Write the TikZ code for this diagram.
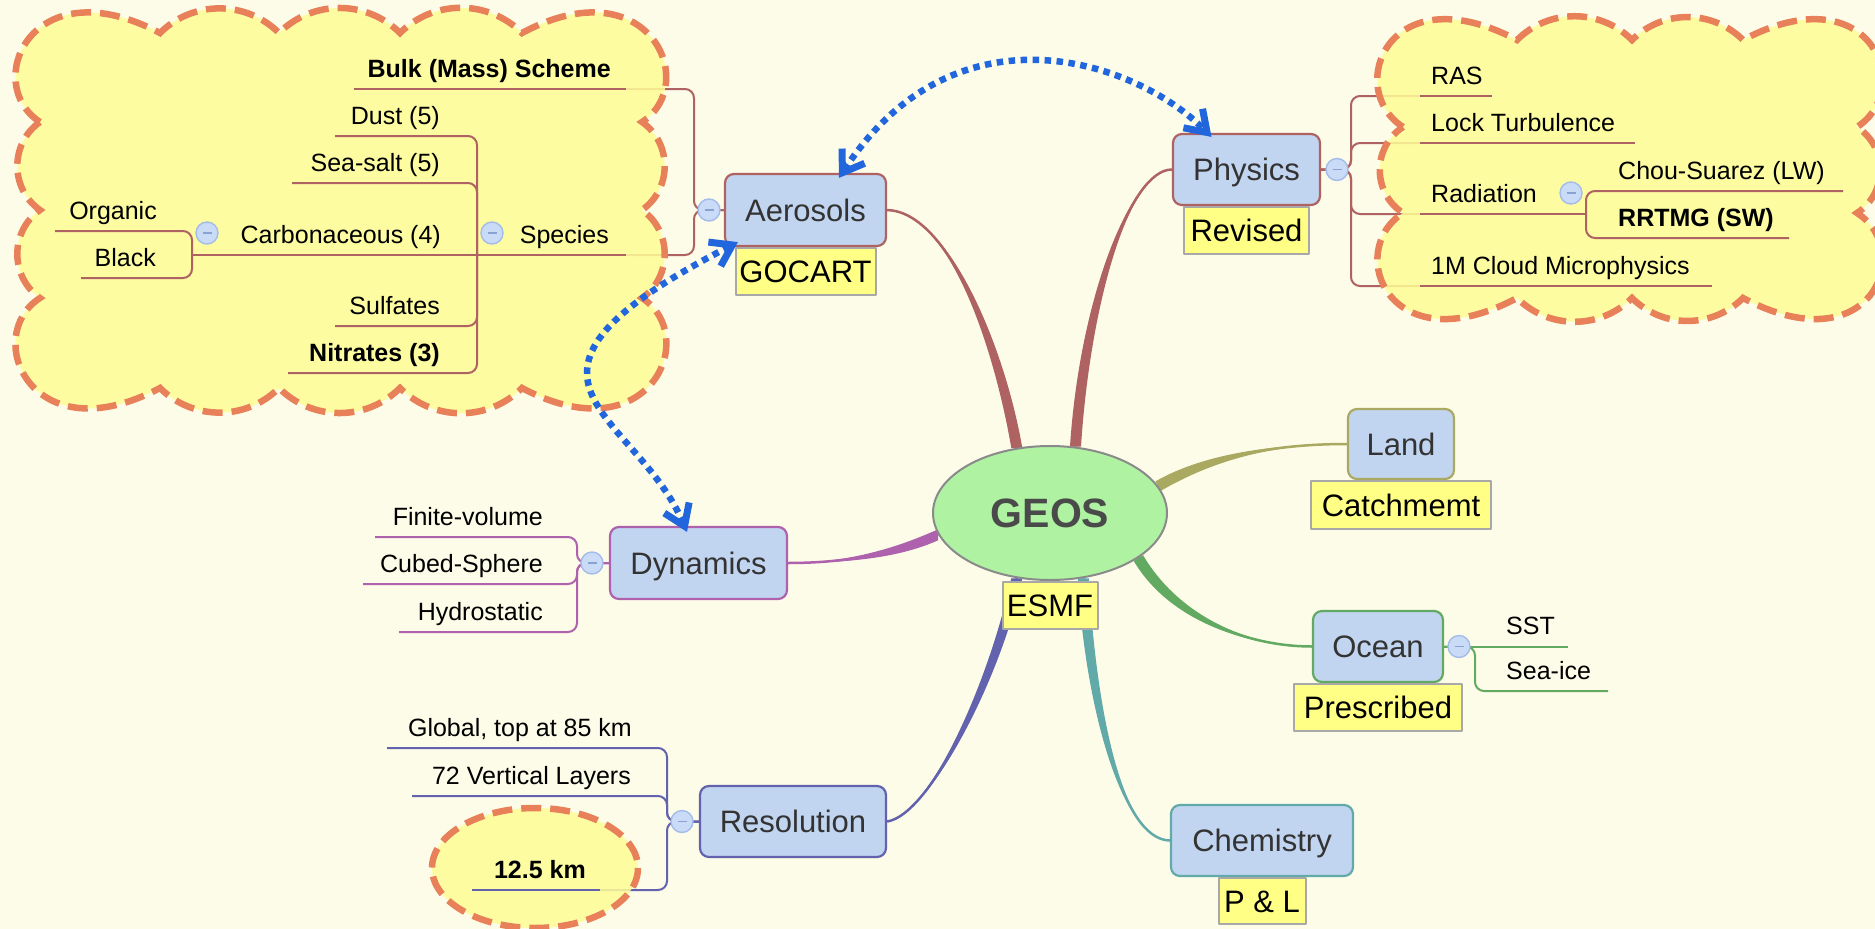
\documentclass[tikz,border=0pt]{standalone}
\usepackage{fontspec}
\setmainfont{Liberation Sans}
\usetikzlibrary{arrows.meta,calc,shapes.geometric}
\pgfdeclarelayer{bglayer}
\pgfdeclarelayer{connlayer}
\pgfdeclarelayer{cloudlayer}
\pgfsetlayers{bglayer,connlayer,cloudlayer,main}

\definecolor{bgc}{HTML}{FDFCE8}
\definecolor{aerc}{HTML}{AF6262}
\definecolor{dync}{HTML}{AE62AE}
\definecolor{resc}{HTML}{6262AE}
\definecolor{landc}{HTML}{A9A962}
\definecolor{oceanc}{HTML}{62AA62}
\definecolor{chemc}{HTML}{62AAAA}
\definecolor{boxfill}{HTML}{C2D5F0}
\definecolor{labfill}{HTML}{FFFF85}
\definecolor{labdraw}{HTML}{A8A8A8}
\definecolor{cloudfill}{HTML}{FEFC96}
\definecolor{clouddraw}{HTML}{E8805A}
\definecolor{geosfill}{HTML}{AEF2A2}
\definecolor{geosdraw}{HTML}{8A8A8A}
\definecolor{geostext}{HTML}{4A4A4A}
\definecolor{maintext}{HTML}{333333}
\definecolor{arrowc}{HTML}{2266DD}
\definecolor{minfill}{HTML}{C9DBF6}
\definecolor{mindraw}{HTML}{A3BCEA}
\definecolor{mindash}{HTML}{8AA2D2}

\newcommand\mmminus{\textcolor{mindash}{\rule[-0.8pt]{9pt}{1.6pt}}}
% leaf on the left side: name, style, text right x, underline y, underline left x, underline right x, text
\newcommand\leafleft[7]{%
  \node[#2, anchor=base east] (#1) at (#3,{#4-12}) {#7};
  \coordinate (#1-l) at (#5,#4);
  \coordinate (#1-r) at (#6,#4);}
% leaf on the right side: name, style, text left x, underline y, underline left x, underline right x, text
\newcommand\leafright[7]{%
  \node[#2, anchor=base west] (#1) at (#3,{#4-12}) {#7};
  \coordinate (#1-l) at (#5,#4);
  \coordinate (#1-r) at (#6,#4);}
% tapered branch: colour, start, c1, c2, end, half-width offset at the end
\newcommand\mmbranch[6]{%
  \fill[#1] (#2) .. controls (#3) and ($(#4)+(#6)$) .. ($(#5)+(#6)$) -- ($(#5)-(#6)$) .. controls ($(#4)-(#6)$) and (#3) .. (#2) -- cycle;
  \draw[#1, line width=2.5pt] (#2) .. controls (#3) and (#4) .. (#5);}

\tikzset{
  mainbox/.style={draw=#1, fill=boxfill, rounded corners=9pt, line width=2.2pt, inner sep=0pt,
    minimum height=71pt, font=\fontsize{31}{36}\selectfont, text=maintext, text height=22pt, text depth=0pt},
  labelbox/.style={draw=labdraw, fill=labfill, line width=2pt, inner sep=0pt, minimum height=47pt,
    font=\fontsize{31}{36}\selectfont, text=black, text height=22pt, text depth=0pt, anchor=north},
  leaf/.style={inner sep=0pt, font=\fontsize{25}{29}\selectfont, text=black},
  leafb/.style={inner sep=0pt, font=\fontsize{25}{29}\selectfont\bfseries, text=black},
  minusnode/.style={circle, draw=mindraw, fill=minfill, line width=1.4pt, minimum size=22pt, inner sep=0pt},
  conn/.style={draw=#1, line width=2pt, rounded corners=9pt},
  uline/.style={draw=#1, line width=2pt},
  cloudshape/.style={draw=clouddraw, fill=cloudfill, fill opacity=0.86, draw opacity=1, line width=6.5pt,
    dash pattern=on 20pt off 9pt},
  cbump/.style 2 args={to path={.. controls ($(\tikztostart)!#2!#1:(\tikztotarget)$) and ($(\tikztotarget)!#2!-#1:(\tikztostart)$) .. (\tikztotarget)}},
  bluearrow/.style={draw=arrowc, line width=6.5pt, dash pattern=on 6.5pt off 5.5pt,
    {Straight Barb[length=20pt,width=27pt,line width=7pt]}-{Straight Barb[length=20pt,width=27pt,line width=7pt]}},
}

\begin{document}
\begin{tikzpicture}[x=1pt, y=-1pt, line join=round]
\useasboundingbox (0,0) rectangle (1875,929);
\begin{pgfonlayer}{bglayer}
  \fill[bgc] (0,0) rectangle (1875,929);
\end{pgfonlayer}

% ---------------- main nodes ----------------
\node[ellipse, draw=geosdraw, fill=geosfill, line width=2pt, minimum width=234pt, minimum height=134pt,
      inner sep=0pt, font=\fontsize{41}{48}\selectfont\bfseries, text=geostext, text height=29.5pt, text depth=0pt]
      (geos) at (1050,513) {GEOS};
\node[labelbox, minimum width=95pt] (esmf) at (geos.south) {ESMF};

\node[mainbox=aerc, minimum width=161pt, minimum height=72pt] (aer) at (805.5,210) {Aerosols};
\node[labelbox, minimum width=140pt] (gocart) at (aer.south) {GOCART};
\node[mainbox=aerc, minimum width=147pt] (phys) at (1246.5,169.5) {Physics};
\node[labelbox, minimum width=125pt] (revised) at (phys.south) {Revised};
\node[mainbox=landc, minimum width=106pt, minimum height=70pt] (land) at (1401,444) {Land};
\node[labelbox, minimum width=180pt, minimum height=48pt] (catch) at (land.south) {Catchmemt};
\node[mainbox=oceanc, minimum width=130pt] (ocean) at (1378,646.5) {Ocean};
\node[labelbox, minimum width=168pt] (presc) at (ocean.south) {Prescribed};
\node[mainbox=chemc, minimum width=182pt] (chem) at (1262,840.5) {Chemistry};
\node[labelbox, minimum width=87pt, minimum height=46pt] (pl) at (chem.south) {P \& L};
\node[mainbox=dync, minimum width=177pt, minimum height=72pt] (dyn) at (698.5,563) {Dynamics};
\node[mainbox=resc, minimum width=186pt] (res) at (793,821.5) {Resolution};

% ---------------- collapse circles ----------------
\node[minusnode] (aerm) at (709,210) {\mmminus};
\node[minusnode] (physm) at (1337,169.5) {\mmminus};
\node[minusnode] (radm) at (1571,193) {\mmminus};
\node[minusnode] (specm) at (492,233) {\mmminus};
\node[minusnode] (carbm) at (207,233) {\mmminus};
\node[minusnode] (dynm) at (592,563) {\mmminus};
\node[minusnode] (resm) at (682,821.5) {\mmminus};
\node[minusnode] (oceanm) at (1459,646.5) {\mmminus};

% ---------------- leaves ----------------
\leafleft{bulk}{leafb}{611}{89}{354}{626}{Bulk (Mass) Scheme}
\leafleft{species}{leaf}{609}{255}{477}{626}{Species}
\leafleft{dust}{leaf}{440}{136}{335}{477}{Dust (5)}
\leafleft{seasalt}{leaf}{440}{183}{292}{477}{Sea-salt (5)}
\leafleft{carb}{leaf}{441}{255}{192}{477}{Carbonaceous (4)}
\leafleft{sulf}{leaf}{440}{326}{335}{477}{Sulfates}
\leafleft{nitr}{leafb}{440}{373}{288}{477}{Nitrates (3)}
\leafleft{organic}{leaf}{157}{231}{55}{192}{Organic}
\leafleft{black}{leaf}{156}{278}{81}{192}{Black}

\leafright{ras}{leaf}{1431}{96}{1420}{1492}{RAS}
\leafright{lock}{leaf}{1431}{143}{1420}{1635}{Lock Turbulence}
\leafright{rad}{leaf}{1431}{214}{1420}{1586}{Radiation}
\leafright{chou}{leaf}{1618}{191}{1586}{1843}{Chou-Suarez (LW)}
\leafright{rrtmg}{leafb}{1618}{238}{1586}{1789}{RRTMG (SW)}
\leafright{cloudm}{leaf}{1431}{286}{1420}{1712}{1M Cloud Microphysics}

\leafleft{fv}{leaf}{543}{537}{375}{577}{Finite-volume}
\leafleft{cs}{leaf}{543}{584}{363}{577}{Cubed-Sphere}
\leafleft{hy}{leaf}{543}{632}{399}{577}{Hydrostatic}

\leafleft{glob}{leaf}{632}{748}{387}{667}{Global, top at 85 km}
\leafleft{vert}{leaf}{631}{796}{412}{667}{72 Vertical Layers}
\leafleft{km}{leafb}{586}{890}{472}{600}{12.5 km}

\leafright{sst}{leaf}{1506}{646.5}{1475}{1568}{SST}
\leafright{seaice}{leaf}{1506}{691}{1475}{1608}{Sea-ice}

% ---------------- connectors (below clouds) ----------------
\coordinate (aerbr) at (694,210);
\coordinate (physbr) at (1351,169.5);
\coordinate (dynbr) at (577,563);
\coordinate (resbr) at (667,821.5);
\coordinate (oceanbr) at (1475,646.5);
\begin{pgfonlayer}{connlayer}
  \mmbranch{aerc}{aer.east}{950,212}{1000,350}{geos.117}{5.5,0}
  \mmbranch{aerc}{phys.west}{1130,169.5}{1085,300}{geos.69}{5.5,0}
  \mmbranch{landc}{land.west}{1260,444}{1200,462}{geos.14}{2.9,4.6}
  \mmbranch{oceanc}{ocean.west}{1250,646.5}{1175,620}{geos.333}{4.7,-2.8}
  \mmbranch{dync}{dyn.east}{850,563}{900,552}{geos.191}{0,5.5}
  \mmbranch{resc}{res.east}{930,815}{995,680}{geos.243}{5.5,0}
  \mmbranch{chemc}{chem.west}{1120,840}{1090,700}{geos.297}{5.5,0}

  \draw[conn=aerc] (aer.west) -- (aerbr) |- (bulk-r);
  \draw[conn=aerc] (aer.west) -- (aerbr) |- (species-r);

  \draw[conn=aerc] (phys.east) -- (physbr) |- (ras-l);
  \draw[conn=aerc] (phys.east) -- (physbr) |- (lock-l);
  \draw[conn=aerc] (phys.east) -- (physbr) |- (rad-l);
  \draw[conn=aerc] (phys.east) -- (physbr) |- (cloudm-l);

  \draw[conn=dync] (dyn.west) -- (dynbr) |- (fv-l);
  \draw[conn=dync] (dyn.west) -- (dynbr) |- (cs-l);
  \draw[conn=dync] (dyn.west) -- (dynbr) |- (hy-l);

  \draw[conn=resc] (res.west) -- (resbr) |- (glob-l);
  \draw[conn=resc] (res.west) -- (resbr) |- (vert-l);
  \draw[conn=resc] (res.west) -- (resbr) |- (km-r);

  \draw[conn=oceanc] (ocean.east) -- (sst-r);
  \draw[conn=oceanc] (ocean.east) -- (oceanbr) |- (seaice-r);
\end{pgfonlayer}

% ---------------- clouds ----------------
\coordinate (lcL1) at (40,122);  \coordinate (lcL2) at (40,210);  \coordinate (lcL3) at (40,298);
\coordinate (lcT1) at (160,33);  \coordinate (lcT2) at (279,33);  \coordinate (lcT3) at (400,33);  \coordinate (lcT4) at (522,33);
\coordinate (lcR1) at (642,122); \coordinate (lcR2) at (642,210); \coordinate (lcR3) at (642,298);
\coordinate (lcB4) at (522,388); \coordinate (lcB3) at (400,388); \coordinate (lcB2) at (279,388); \coordinate (lcB1) at (160,388);

\coordinate (rcL1) at (1403,127); \coordinate (rcL2) at (1403,213);
\coordinate (rcT1) at (1517,40);  \coordinate (rcT2) at (1632,40);  \coordinate (rcT3) at (1743,40);
\coordinate (rcR1) at (1857,127); \coordinate (rcR2) at (1857,213);
\coordinate (rcB3) at (1743,298); \coordinate (rcB2) at (1632,298); \coordinate (rcB1) at (1517,298);

\begin{pgfonlayer}{cloudlayer}
  \path[cloudshape] (lcL1) .. controls (-19,84) and (31,-35) .. (lcT1)
     to[cbump={45}{0.39}] (lcT2) to[cbump={45}{0.39}] (lcT3) to[cbump={45}{0.39}] (lcT4)
     .. controls (649,-35) and (701,84) .. (lcR1)
     to[cbump={55}{0.42}] (lcR2) to[cbump={55}{0.42}] (lcR3)
     .. controls (701,336) and (650,456) .. (lcB4)
     to[cbump={45}{0.39}] (lcB3) to[cbump={45}{0.39}] (lcB2) to[cbump={45}{0.39}] (lcB1)
     .. controls (31,456) and (-19,336) .. (lcL3)
     to[cbump={55}{0.42}] (lcL2) to[cbump={55}{0.42}] (lcL1) -- cycle;

  \path[cloudshape] (rcL1) .. controls (1344,89) and (1388,-28) .. (rcT1)
     to[cbump={45}{0.39}] (rcT2) to[cbump={45}{0.39}] (rcT3)
     .. controls (1871,-28) and (1916,89) .. (rcR1)
     to[cbump={57}{0.43}] (rcR2)
     .. controls (1916,251) and (1871,366) .. (rcB3)
     to[cbump={45}{0.39}] (rcB2) to[cbump={45}{0.39}] (rcB1)
     .. controls (1389,366) and (1344,251) .. (rcL2)
     to[cbump={57}{0.43}] (rcL1) -- cycle;

  \path[cloudshape] (535,868) ellipse [x radius=103, y radius=60];
\end{pgfonlayer}

% ---------------- underlines and inner brackets (above clouds) ----------------
\draw[uline=aerc] (bulk-l) -- (bulk-r);
\draw[uline=aerc] (species-l) -- (species-r);
\draw[conn=aerc] (species-l) |- (dust-l);
\draw[conn=aerc] (species-l) |- (seasalt-l);
\draw[conn=aerc] (species-l) -- (carb-l);
\draw[conn=aerc] (species-l) |- (sulf-l);
\draw[conn=aerc] (species-l) |- (nitr-l);
\draw[conn=aerc] (carb-l) |- (organic-l);
\draw[conn=aerc] (carb-l) |- (black-l);

\draw[uline=aerc] (ras-l) -- (ras-r);
\draw[uline=aerc] (lock-l) -- (lock-r);
\draw[uline=aerc] (rad-l) -- (rad-r);
\draw[uline=aerc] (cloudm-l) -- (cloudm-r);
\draw[conn=aerc] (rad-r) |- (chou-r);
\draw[conn=aerc] (rad-r) |- (rrtmg-r);

\draw[uline=resc] (km-l) -- (km-r);

% ---------------- dotted relation arrows ----------------
\draw[bluearrow] ([xshift=33.5pt,yshift=-5pt]aer.north) .. controls (955,0) and (1135,60) .. ([xshift=-35pt,yshift=-4pt]phys.north);
\draw[bluearrow] ([xshift=14pt,yshift=5pt]aer.south west) .. controls (470,380) and (635,410) .. ([xshift=-11.5pt,yshift=-6pt]dyn.north);
\end{tikzpicture}
\end{document}
